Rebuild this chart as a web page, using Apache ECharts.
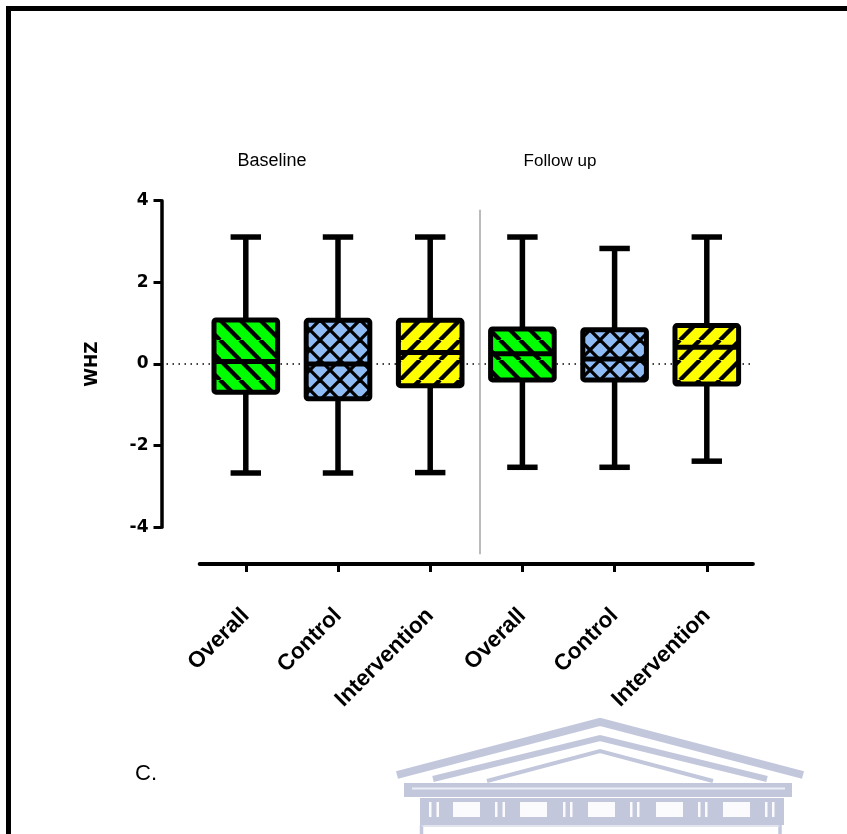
<!DOCTYPE html>
<html><head><meta charset="utf-8">
<script src="https://cdn.jsdelivr.net/npm/echarts@6/dist/echarts.min.js"></script>
<style>html,body{margin:0;padding:0;background:#fff}#c{width:847px;height:834px}</style>
</head><body><div id="c"></div>
<script>
// ---- data ----
const categories = ['Overall', 'Control', 'Intervention', 'Overall', 'Control', 'Intervention'];
const whiskerLow = [-2.67, -2.67, -2.66, -2.53, -2.53, -2.38];
const q1 = [-0.69, -0.85, -0.53, -0.39, -0.39, -0.49];
const median = [0.06, 0.0, 0.28, 0.25, 0.12, 0.41];
const q3 = [1.08, 1.07, 1.07, 0.86, 0.84, 0.94];
const whiskerHigh = [3.11, 3.11, 3.11, 3.11, 2.83, 3.11];
const groupTitles = ['Baseline', 'Follow up'];
const yAxisName = 'WHZ';
const panelLabel = 'C.';

// ---- styles ----
const boxStyles = [
  { bg: '#00ff00', kind: 'down' },
  { bg: '#8fbcf4', kind: 'cross' },
  { bg: '#ffff00', kind: 'up' },
  { bg: '#00ff00', kind: 'down' },
  { bg: '#8fbcf4', kind: 'cross' },
  { bg: '#ffff00', kind: 'up' }
];
function makePattern(bg, kind) {
  const s = 20;
  const c = document.createElement('canvas');
  c.width = s; c.height = s;
  const g = c.getContext('2d');
  g.fillStyle = bg; g.fillRect(0, 0, s, s);
  g.strokeStyle = '#000';
  g.lineWidth = kind === 'cross' ? 3.3 : 4.4;
  function diag(dir) {
    for (let k = -1; k <= 1; k++) {
      g.beginPath();
      if (dir === 'down') { g.moveTo(k * s, 0); g.lineTo(k * s + s, s); }
      else { g.moveTo(k * s, s); g.lineTo(k * s + s, 0); }
      g.stroke();
    }
  }
  if (kind === 'down' || kind === 'cross') diag('down');
  if (kind === 'up' || kind === 'cross') diag('up');
  return { image: c, repeat: 'repeat' };
}
const patterns = boxStyles.map(s => makePattern(s.bg, s.kind));

const chart = echarts.init(document.getElementById('c'), null, { renderer: 'canvas' });
const seriesData = categories.map((_, i) => [i, whiskerLow[i], q1[i], median[i], q3[i], whiskerHigh[i]]);

chart.setOption({
  animation: false,
  backgroundColor: '#fff',
  grid: { left: 199.7, right: 94.1, top: 200.7, bottom: 306.7, containLabel: false },
  xAxis: {
    type: 'category',
    data: categories,
    boundaryGap: true,
    offset: 36.8,
    axisLine: { show: true, onZero: false, lineStyle: { color: '#000', width: 4 } },
    axisTick: { show: true, alignWithLabel: true, length: 8, lineStyle: { color: '#000', width: 3 } },
    axisLabel: {
      rotate: 45, interval: 0, margin: 48,
      color: '#000', fontFamily: 'Liberation Sans', fontWeight: 'bold', fontSize: 22.5
    },
    splitLine: { show: false }
  },
  yAxis: {
    type: 'value',
    min: -4, max: 4, interval: 2,
    offset: 38.2,
    axisLine: { show: true, onZero: false, lineStyle: { color: '#000', width: 3.5 } },
    axisTick: { show: true, length: 8, lineStyle: { color: '#000', width: 3 } },
    axisLabel: { margin: 13, color: '#000', fontFamily: 'DejaVu Sans', fontWeight: 'bold', fontSize: 17 },
    splitLine: { show: false }
  },
  series: [{
    type: 'custom',
    data: seriesData,
    encode: { x: 0, y: [1, 2, 3, 4, 5] },
    z: 5,
    renderItem: function (params, api) {
      const i = api.value(0);
      const lo = api.coord([i, api.value(1)]);
      const b1 = api.coord([i, api.value(2)]);
      const md = api.coord([i, api.value(3)]);
      const b3 = api.coord([i, api.value(4)]);
      const hi = api.coord([i, api.value(5)]);
      const band = api.size([1, 0])[0];
      const bw = band * 0.69, cw = band * 0.33;
      const x = lo[0];
      const st = { stroke: '#000', lineWidth: 5.5 };
      return {
        type: 'group',
        children: [
          { type: 'line', shape: { x1: x, y1: hi[1], x2: x, y2: lo[1] }, style: st },
          { type: 'line', shape: { x1: x - cw / 2, y1: hi[1], x2: x + cw / 2, y2: hi[1] }, style: st },
          { type: 'line', shape: { x1: x - cw / 2, y1: lo[1], x2: x + cw / 2, y2: lo[1] }, style: st },
          { type: 'rect', shape: { x: x - bw / 2, y: b3[1], width: bw, height: b1[1] - b3[1], r: 2 },
            style: { fill: patterns[params.dataIndex], stroke: '#000', lineWidth: 5, lineJoin: 'round' } },
          { type: 'line', shape: { x1: x - bw / 2, y1: md[1], x2: x + bw / 2, y2: md[1] }, style: { stroke: '#000', lineWidth: 5 } }
        ]
      };
    }
  }]
});

// ---- decorations positioned from the chart's own scales ----
const y0 = chart.convertToPixel({ yAxisIndex: 0 }, 0);
const yTop = chart.convertToPixel({ yAxisIndex: 0 }, 4);
const yBot = chart.convertToPixel({ yAxisIndex: 0 }, -4);
const x2 = chart.convertToPixel({ xAxisIndex: 0 }, 2);
const x3 = chart.convertToPixel({ xAxisIndex: 0 }, 3);
const x0 = chart.convertToPixel({ xAxisIndex: 0 }, 0);
const x5 = chart.convertToPixel({ xAxisIndex: 0 }, 5);
const band = x3 - x2;
const gridRight = x5 + band / 2;
const yAxisX = x0 - band / 2 - 38.2;
const sepX = (x2 + x3) / 2 + 3.7;
const wm = '#c2c7dc';
const wmLight = '#eceef4';

const graphics = [
  { type: 'rect', shape: { x: 8.5, y: 8.5, width: 900, height: 900 }, style: { fill: null, stroke: '#000', lineWidth: 5 }, z: 100 },
  // dotted zero line
  { type: 'line', shape: { x1: yAxisX + 5, y1: y0, x2: gridRight, y2: y0 }, style: { stroke: '#000', lineWidth: 1.5, lineDash: [1.5, 4.5] }, z: 1 },
  // group separator
  { type: 'line', shape: { x1: sepX, y1: yTop + 9, x2: sepX, y2: yBot + 27 }, style: { stroke: '#aaaaaa', lineWidth: 1.6 }, z: 1 },
  // group titles
  { type: 'text', x: 272, y: 161, style: { text: groupTitles[0], font: '18px "Liberation Sans"', fill: '#000', align: 'center', verticalAlign: 'middle' } },
  { type: 'text', x: 560, y: 161, style: { text: groupTitles[1], font: '17px "Liberation Sans"', fill: '#000', align: 'center', verticalAlign: 'middle' } },
  // y axis name
  { type: 'text', x: 93, y: y0, rotation: Math.PI / 2, style: { text: yAxisName, font: 'bold 17px "DejaVu Sans"', fill: '#000', align: 'center', verticalAlign: 'middle' } },
  // panel label
  { type: 'text', x: 135, y: 774, style: { text: panelLabel, font: '22px "Liberation Sans"', fill: '#000', align: 'left', verticalAlign: 'middle' } },
  // watermark (building logo)
  { type: 'polyline', shape: { points: [[397, 775], [600, 722], [803, 775]] }, style: { stroke: wm, lineWidth: 8, fill: null, lineJoin: 'miter' } },
  { type: 'polyline', shape: { points: [[433, 779], [600, 738], [767, 779]] }, style: { stroke: wm, lineWidth: 6, fill: null } },
  { type: 'polyline', shape: { points: [[487, 781], [600, 751], [713, 781]] }, style: { stroke: wm, lineWidth: 4, fill: null } },
  { type: 'rect', shape: { x: 404, y: 783, width: 388, height: 14 }, style: { fill: wm } },
  { type: 'line', shape: { x1: 412, y1: 788.5, x2: 785, y2: 788.5 }, style: { stroke: wmLight, lineWidth: 2 } },
  { type: 'rect', shape: { x: 420, y: 798, width: 364, height: 27 }, style: { fill: wm } }
];
// windows of the logo
const winX = [453, 520, 588, 656, 723];
winX.forEach(wx => graphics.push({ type: 'rect', shape: { x: wx, y: 802, width: 27, height: 15 }, style: { fill: '#fbfbfd' } }));
const slitX = [429, 436.5, 495, 502.5, 563, 570, 630, 637, 698, 705, 765, 772];
slitX.forEach(sx => graphics.push({ type: 'rect', shape: { x: sx, y: 802, width: 2.5, height: 15 }, style: { fill: '#fbfbfd' } }));
graphics.push({ type: 'line', shape: { x1: 421.5, y1: 825, x2: 421.5, y2: 840 }, style: { stroke: wm, lineWidth: 3.5 } });
graphics.push({ type: 'line', shape: { x1: 780, y1: 825, x2: 780, y2: 840 }, style: { stroke: wm, lineWidth: 3.5 } });
graphics.push({ type: 'line', shape: { x1: 421.5, y1: 826, x2: 780, y2: 826 }, style: { stroke: '#d8dbe8', lineWidth: 1.5 } });

chart.setOption({ graphic: { elements: graphics } });
</script>
</body></html>
